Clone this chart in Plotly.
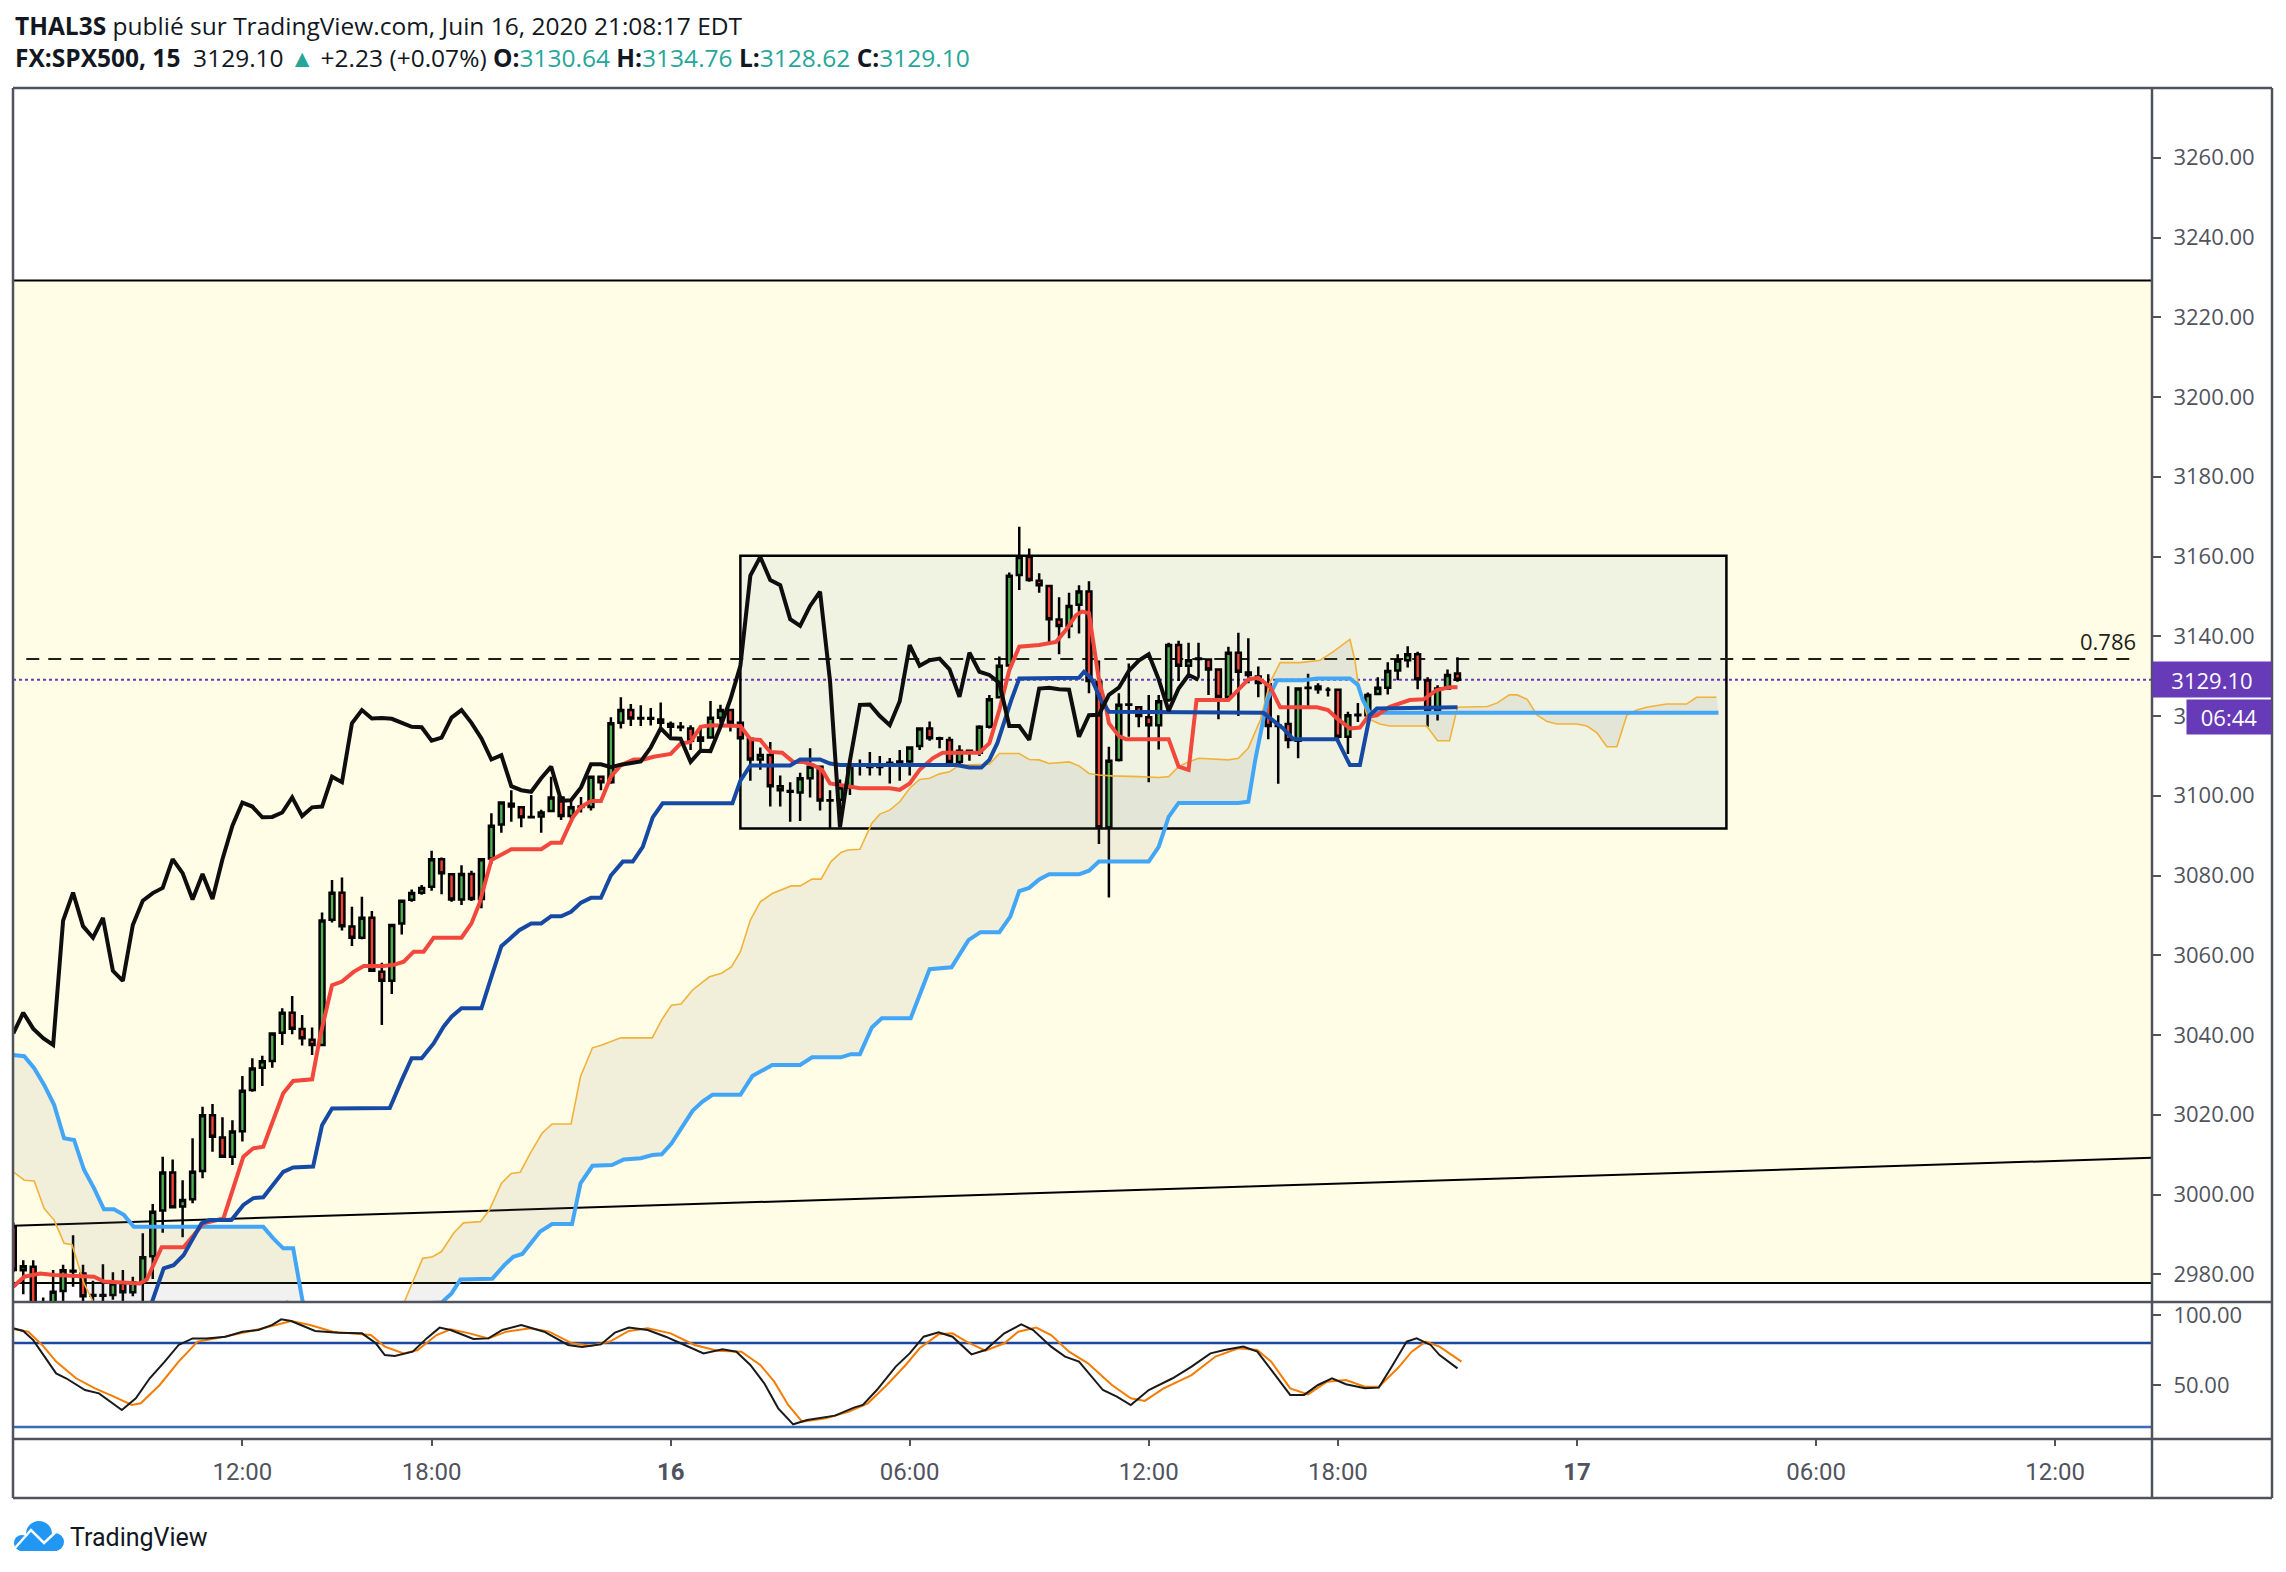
import plotly.graph_objects as go

# ---------------- data ----------------
bars = list(range(-66, 80))  # 15-minute bar index, 0 = Jun 16 00:00

opens = [
2991.9, 2981.0, 2981.9, 2971.0, 2969.0, 2975.8, 2980.7, 2980.2, 2974.8, 2974.6,
2974.8, 2977.7, 2975.5, 2978.0, 2984.5, 2996.0, 3005.5, 2997.0, 2998.8, 3005.9,
3019.9, 3014.3, 3009.5, 3015.9, 3026.2, 3031.8, 3033.5, 3040.6, 3045.6, 3041.5,
3038.8, 3037.5, 3068.9, 3075.7, 3067.2, 3064.4, 3069.4, 3055.9, 3053.6, 3068.0,
3073.9, 3075.7, 3077.2, 3084.1, 3080.3, 3074.0, 3080.4, 3074.1, 3084.3, 3092.8,
3098.0, 3097.1, 3094.6, 3094.8, 3096.2, 3099.6, 3094.9, 3097.2, 3097.2, 3104.8,
3103.4, 3118.3, 3121.5, 3119.4, 3119.5, 3119.1, 3118.0, 3117.3, 3116.9, 3113.8,
3114.6, 3119.6, 3121.5, 3118.3, 3114.3, 3109.1, 3110.2, 3102.4, 3101.2, 3100.8,
3104.4, 3107.3, 3098.8, 3099.0, 3102.1, 3107.8, 3107.8, 3107.2, 3108.2, 3108.5,
3108.6, 3112.5, 3116.9, 3114.4, 3114.0, 3108.5, 3111.3, 3110.8, 3117.3, 3124.7,
3132.7, 3155.4, 3159.9, 3153.9, 3152.6, 3144.2, 3142.6, 3147.9, 3151.2, 3128.6,
3092.1, 3109.0, 3122.8, 3122.2, 3119.7, 3117.7, 3124.0, 3137.8, 3132.6, 3134.3,
3134.2, 3131.7, 3124.8, 3135.9, 3130.9, 3129.9, 3128.0, 3117.6, 3118.0, 3113.8,
3127.0, 3127.4, 3126.6, 3126.6, 3114.8, 3120.2, 3120.2, 3125.5, 3127.1, 3131.4,
3134.0, 3135.5, 3128.9, 3121.3, 3126.9, 3130.64]

highs = [
2993.0, 2983.5, 2983.5, 2974.2, 2981.1, 2982.4, 2989.8, 2982.4, 2978.4, 2982.5,
2980.5, 2981.1, 2979.4, 2990.3, 2997.6, 3009.5, 3008.8, 3003.6, 3014.1, 3022.0,
3022.7, 3019.4, 3018.6, 3029.7, 3034.2, 3034.8, 3040.6, 3046.7, 3049.8, 3045.0,
3041.9, 3070.7, 3078.9, 3079.5, 3072.2, 3074.7, 3071.1, 3058.1, 3067.8, 3074.0,
3076.5, 3077.6, 3086.2, 3084.5, 3080.6, 3082.6, 3081.2, 3084.4, 3095.6, 3098.6,
3101.4, 3097.4, 3100.2, 3096.5, 3104.8, 3099.8, 3099.1, 3099.7, 3105.0, 3105.0,
3119.7, 3124.7, 3123.0, 3122.7, 3122.0, 3123.4, 3118.6, 3118.5, 3117.7, 3117.5,
3123.8, 3122.8, 3121.8, 3118.6, 3114.6, 3112.1, 3113.5, 3105.1, 3103.4, 3105.8,
3111.9, 3107.6, 3101.4, 3104.1, 3108.2, 3109.1, 3111.0, 3110.0, 3109.5, 3111.5,
3112.3, 3117.0, 3118.6, 3114.8, 3114.8, 3112.7, 3111.5, 3117.7, 3125.3, 3134.9,
3156.0, 3167.5, 3162.0, 3155.8, 3152.8, 3149.8, 3150.9, 3152.8, 3153.8, 3133.9,
3112.3, 3125.7, 3133.2, 3122.4, 3125.3, 3125.3, 3138.4, 3138.9, 3138.4, 3138.4,
3134.4, 3131.9, 3137.4, 3140.9, 3139.5, 3132.4, 3130.5, 3120.2, 3127.5, 3126.9,
3130.6, 3128.2, 3127.2, 3126.6, 3121.1, 3123.3, 3125.9, 3129.7, 3133.5, 3135.5,
3137.5, 3136.1, 3129.7, 3127.7, 3131.7, 3134.76]

lows = [
2980.5, 2975.0, 2968.0, 2966.0, 2967.0, 2972.0, 2976.9, 2971.5, 2972.0, 2972.0,
2973.6, 2972.5, 2974.5, 2972.0, 2978.8, 2990.4, 2996.5, 2989.3, 2997.8, 3004.1,
3010.7, 3009.2, 3007.4, 3013.3, 3025.8, 3027.2, 3031.8, 3037.5, 3040.2, 3037.4,
3035.0, 3037.2, 3068.2, 3066.2, 3062.3, 3064.0, 3055.8, 3042.5, 3050.3, 3065.2,
3073.4, 3075.2, 3076.2, 3075.3, 3073.4, 3072.6, 3073.6, 3071.8, 3083.0, 3090.7,
3093.5, 3092.1, 3094.3, 3090.7, 3096.0, 3093.9, 3094.1, 3095.8, 3096.3, 3101.4,
3103.0, 3116.9, 3117.5, 3117.5, 3117.6, 3117.3, 3114.8, 3116.2, 3111.5, 3111.6,
3114.4, 3118.3, 3116.1, 3114.0, 3103.8, 3106.5, 3097.3, 3097.3, 3093.5, 3093.7,
3099.6, 3096.3, 3091.8, 3096.0, 3100.2, 3105.1, 3105.1, 3105.1, 3103.1, 3103.8,
3105.1, 3111.5, 3113.8, 3111.9, 3107.7, 3107.7, 3108.8, 3110.0, 3116.9, 3124.5,
3132.4, 3151.6, 3153.7, 3150.9, 3138.4, 3135.5, 3139.5, 3140.7, 3125.7, 3087.9,
3074.5, 3108.6, 3114.8, 3117.2, 3103.4, 3111.6, 3123.6, 3128.8, 3129.9, 3129.6,
3125.3, 3119.2, 3123.8, 3120.0, 3128.2, 3124.7, 3114.2, 3103.0, 3111.9, 3109.4,
3122.3, 3125.6, 3124.9, 3113.6, 3110.5, 3118.5, 3119.8, 3125.3, 3125.4, 3129.0,
3132.2, 3126.7, 3117.3, 3118.9, 3126.9, 3128.62]

closes = [
2981.1, 2982.0, 2971.0, 2969.0, 2975.6, 2981.0, 2980.9, 2974.5, 2974.6, 2974.8,
2977.7, 2975.5, 2978.0, 2984.3, 2995.7, 3005.5, 2996.8, 2998.6, 3005.7, 3019.9,
3014.5, 3009.5, 3015.8, 3026.0, 3031.6, 3033.4, 3040.4, 3045.6, 3041.6, 3039.2,
3037.5, 3068.7, 3075.7, 3067.3, 3064.4, 3069.4, 3056.1, 3053.6, 3067.6, 3073.7,
3075.6, 3076.9, 3084.1, 3080.6, 3074.0, 3080.4, 3074.1, 3084.1, 3092.5, 3098.3,
3097.3, 3094.6, 3094.7, 3095.8, 3099.6, 3094.9, 3097.1, 3097.3, 3104.8, 3103.4,
3118.2, 3121.5, 3119.4, 3119.5, 3119.3, 3118.3, 3117.3, 3117.2, 3113.8, 3114.6,
3119.6, 3121.5, 3118.3, 3114.4, 3109.1, 3110.2, 3102.4, 3101.4, 3101.0, 3104.4,
3107.3, 3098.8, 3098.9, 3102.1, 3107.9, 3107.9, 3107.2, 3107.8, 3108.3, 3108.6,
3112.1, 3116.9, 3114.4, 3114.3, 3108.5, 3111.3, 3111.2, 3117.3, 3124.2, 3132.6,
3155.2, 3159.9, 3154.1, 3152.8, 3144.3, 3142.6, 3147.6, 3151.2, 3128.8, 3092.1,
3108.8, 3122.8, 3122.9, 3120.0, 3117.7, 3123.7, 3137.8, 3132.6, 3134.0, 3134.4,
3131.7, 3124.8, 3135.9, 3131.1, 3130.3, 3128.3, 3117.5, 3117.5, 3114.0, 3126.9,
3127.1, 3126.7, 3126.6, 3114.8, 3120.2, 3120.3, 3125.3, 3127.1, 3131.3, 3133.9,
3135.5, 3129.2, 3121.3, 3126.9, 3130.3, 3129.10]

LAG_SHIFT = 26  # lagging span plotted 26 bars back

conv_x = [-66, -64.9, -63.3, -61.9, -57.9, -56.9, -53.3, -52.6, -51.1, -48.9, -46.9, -44.9, -42.9, -41.9,
          -40.9, -38.9, -37.9, -36, -35.2, -34, -33, -31.8, -30.8, -28.8, -27.8, -26.8, -25.8, -24.8,
          -23.8, -21, -20, -19.2, -18, -16, -13, -12, -11, -9.8, -9, -8, -7, -6, -5, -3.7, -2.7, -1.7,
          0, 1, 2, 3, 4, 7, 8, 9, 10, 11.2, 12.3, 13.3, 14.3, 15.2, 16, 17, 18, 19, 22, 23, 24, 25,
          26.3, 27.3, 31, 32, 33, 34, 35, 37, 38.7, 39.7, 40.7, 41.3, 42, 43, 43.7, 44, 45, 45.7, 50,
          51, 52, 52.8, 56, 57, 58, 59, 60.2, 61.2, 64.9, 66, 66.9, 68.2, 69.2, 70, 70.9, 72.2, 74.2,
          75.6, 76.9, 78.2, 79]
conv_y = [2976.9, 2979.4, 2980.2, 2979.8, 2979.4, 2978.2, 2977.7, 2978.7, 2986.8, 2986.8, 2992.8, 2994.0,
          3009.5, 3011.6, 3012.0, 3025.4, 3028.5, 3028.9, 3039.6, 3052.5, 3053.4, 3055.9, 3057.3, 3057.3,
          3057.6, 3058.4, 3060.9, 3060.9, 3064.4, 3064.4, 3068.0, 3073.0, 3083.9, 3086.6, 3086.6, 3088.2,
          3088.2, 3094.7, 3097.2, 3098.7, 3098.7, 3104.8, 3107.7, 3109.1, 3109.1, 3109.8, 3110.5, 3113.1,
          3113.5, 3117.3, 3117.7, 3117.5, 3114.2, 3114.0, 3111.0, 3110.8, 3108.5, 3108.5, 3107.7, 3106.5,
          3103.1, 3102.7, 3102.3, 3101.9, 3101.9, 3101.5, 3103.1, 3106.5, 3109.4, 3110.8, 3110.8, 3113.2,
          3121.5, 3131.5, 3137.4, 3137.8, 3138.6, 3141.6, 3145.3, 3146.2, 3145.8, 3129.0, 3122.3, 3118.2,
          3115.0, 3114.2, 3114.2, 3107.3, 3106.5, 3124.0, 3124.0, 3126.5, 3129.2, 3129.6, 3127.3, 3122.2,
          3122.2, 3121.5, 3119.4, 3116.9, 3117.1, 3119.8, 3120.2, 3122.3, 3124.0, 3124.2, 3126.5, 3127.2,
          3127.2]

base_x = [-52.5, -51.4, -50.9, -49.9, -48.9, -47.1, -46.3, -44.1, -42.9, -41.9, -40.9, -38.9, -37.9, -35.9,
          -35, -34, -28.2, -27, -26, -25, -23.8, -22.8, -22, -21, -19, -18, -17, -16.2, -15.2, -14, -13,
          -12, -11, -10, -9, -8, -7, -6, -4.8, -3.8, -2.8, -1.8, -0.8, 6.2, 7, 8, 12, 13, 15, 16, 17, 28.7,
          30, 31.2, 32, 32.8, 33.3, 34.2, 35, 41, 41.5, 42.2, 43.2, 44, 59.5, 60.5, 61.5, 62.5, 66.9, 68.2,
          69.2, 70.2, 70.9, 79]
base_y = [2970.0, 2977.7, 2981.5, 2982.3, 2984.8, 2992.8, 2993.6, 2993.6, 2997.4, 2999.1, 2999.3, 3005.7,
          3006.8, 3007.0, 3017.4, 3021.6, 3021.7, 3028.7, 3034.2, 3034.2, 3037.9, 3042.1, 3044.6, 3046.7,
          3046.7, 3054.6, 3062.3, 3064.0, 3066.3, 3068.0, 3068.0, 3069.8, 3069.8, 3070.9, 3073.2, 3074.4,
          3074.4, 3080.0, 3083.5, 3083.5, 3087.2, 3094.6, 3098.1, 3098.1, 3103.8, 3107.6, 3107.6, 3109.1,
          3109.1, 3108.1, 3107.7, 3107.7, 3107.1, 3107.1, 3109.0, 3113.2, 3117.3, 3124.0, 3129.4, 3129.6,
          3131.1, 3129.6, 3124.0, 3121.1, 3120.8, 3119.0, 3116.9, 3114.2, 3114.2, 3107.7, 3107.7, 3120.2,
          3121.9, 3122.2]

spanA_x = [-66, -64.9, -63.9, -62.9, -61.9, -60.9, -60.1, -58.9, -57.9, -50, -39.5, -38.5, -37.5, -33, -26.8,
           -25.9, -24.9, -23.9, -23.0, -21.8, -20.8, -19.1, -18.2, -17.0, -16.0, -15.1, -14.1, -12.9, -11.9,
           -10.0, -9.05, -7.85, -6.9, -5.0, -1.85, -0.9, 0.08, 1.04, 2.2, 3.9, 5.1, 6.1, 7.0, 8.0, 9.0, 10.2,
           12.1, 13.0, 14.2, 15.1, 16.1, 17.1, 17.8, 19.0, 20.2, 21, 22, 23, 24, 25, 26, 27, 28, 29, 32, 33,
           35, 36, 37, 38, 40, 41, 42, 43, 44.3, 47, 49, 50, 51, 52, 53, 56, 57, 58, 59.2, 60.2, 61.2, 63.2,
           65.2, 66.5, 68.2, 68.7, 69, 70, 71.2, 72.2, 75.9, 77, 78.2, 79, 82, 83, 84.2, 85, 86, 87, 88, 89,
           91, 92, 93, 94, 95, 96, 97, 98, 100, 102, 103, 105]
spanA_y = [3005.7, 3003.6, 3003.4, 2996.5, 2993.6, 2987.8, 2987.4, 2977.7, 2972.7, 2962.0, 2972.0, 2973.3,
           2972.0, 2962.0, 2972.7, 2978.1, 2984.0, 2984.4, 2985.7, 2990.3, 2992.9, 2993.2, 2996.1, 3002.8,
           3005.3, 3005.6, 3010.3, 3015.4, 3017.7, 3017.7, 3029.6, 3036.8, 3037.5, 3039.3, 3039.3, 3043.8,
           3047.5, 3047.8, 3051.3, 3054.6, 3055.5, 3057.1, 3060.9, 3068.8, 3073.4, 3075.5, 3077.4, 3077.4,
           3079.1, 3079.1, 3083.5, 3085.8, 3086.4, 3086.6, 3093.1, 3095.4, 3096.4, 3098.5, 3101.9, 3104.1,
           3104.4, 3105.5, 3106.0, 3107.7, 3107.9, 3110.6, 3110.6, 3109.1, 3109.0, 3108.1, 3108.5, 3107.5,
           3105.6, 3105.2, 3105.0, 3104.8, 3104.6, 3104.8, 3107.3, 3108.5, 3109.4, 3109.0, 3109.4, 3112.0,
           3119.0, 3128.6, 3133.4, 3133.4, 3134.0, 3136.1, 3139.2, 3134.0, 3128.6, 3119.4, 3118.0, 3117.5,
           3117.5, 3113.8, 3113.8, 3122.2, 3122.4, 3123.3, 3125.3, 3125.3, 3124.2, 3120.2, 3118.6, 3118.0,
           3118.0, 3117.5, 3115.8, 3112.3, 3112.3, 3120.2, 3121.5, 3122.2, 3123.0, 3123.0, 3124.7, 3124.7]

spanB_x = [-66, -64.9, -63.9, -62.9, -61.9, -60.9, -59.9, -58.9, -57.9, -56.9, -55.9, -54.9, -53.9, -40.9,
           -39.9, -38.9, -37.9, -36.9, -35, -27, -24.9, -23.0, -22.0, -21.1, -17.9, -16.7, -15.8, -14.9,
           -13.1, -11.9, -9.9, -9.05, -7.85, -5.9, -4.7, -3.0, -1.85, -0.9, 0.08, 1.04, 2.2, 3.2, 4.2, 7.0,
           8.2, 10.2, 13.0, 14.2, 17.1, 18.1, 19.0, 20.2, 21.2, 24.1, 26.0, 28.2, 29.9, 31.1, 33.0, 34.1, 35,
           36, 37, 38, 41, 42, 43, 48, 49, 50, 51, 57, 58, 58.7, 59.2, 59.9, 60.9, 63.5, 64.9, 68.2, 69, 69.5,
           70.2, 105.2]
spanB_y = [3035.0, 3034.7, 3031.7, 3027.5, 3022.5, 3014.1, 3013.7, 3006.2, 3001.6, 2996.3, 2996.3, 2994.9,
           2991.9, 2991.9, 2989.0, 2986.5, 2986.5, 2972.5, 2962.0, 2962.0, 2972.7, 2972.9, 2975.2, 2978.7,
           2978.9, 2982.3, 2984.4, 2985.1, 2990.7, 2992.6, 2992.6, 3002.8, 3007.2, 3007.4, 3008.8, 3009.1,
           3009.9, 3010.1, 3012.8, 3016.4, 3021.0, 3023.3, 3025.0, 3025.0, 3029.7, 3032.5, 3032.5, 3034.4,
           3034.4, 3035.2, 3035.2, 3041.9, 3044.2, 3044.2, 3056.5, 3057.0, 3063.8, 3065.8, 3065.8, 3069.7,
           3076.1, 3076.9, 3079.0, 3080.3, 3080.3, 3081.2, 3083.5, 3083.5, 3087.2, 3094.7, 3098.2, 3098.2,
           3098.5, 3109.1, 3115.7, 3124.0, 3129.0, 3129.0, 3129.4, 3129.4, 3127.8, 3124.0, 3120.8, 3120.8]

stoch_k_x = [-66, -65, -64, -62.6, -61.7, -60.7, -58.8, -57.4, -55.1, -53.7, -52.3, -50.8, -49.4, -48, -46.6,
             -44.7, -43, -41.4, -40, -39.1, -38.1, -35.7, -33.4, -31, -29.6, -28.7, -27.7, -25.9, -24.5,
             -23.2, -22.1, -19.8, -18.3, -16.9, -15, -12.7, -10.3, -8.9, -7, -5.6, -4.2, -2.3, -0.5, 1.4,
             3.3, 5.2, 6.6, 8, 9.4, 10.8, 12.3, 13.7, 16.5, 18.4, 19.3, 20.7, 22.6, 24, 25.4, 26.9, 28.3,
             30.2, 31.6, 33.5, 35.2, 36.4, 38.2, 39.6, 41, 43.4, 44.8, 46.2, 48, 50.4, 52.3, 54.2, 55.6,
             57.5, 58.9, 60.7, 62.2, 63.6, 65, 66.4, 67.8, 69.7, 71.1, 72.5, 73.9, 74.9, 76.3, 77.2, 79]
stoch_k_y = [90.5, 88.6, 82.1, 67.9, 58.3, 54.8, 46.4, 44.0, 32.1, 40.5, 54.8, 66.7, 78.6, 83.3, 83.3, 84.5,
             88.1, 89.3, 92.9, 96.9, 95.7, 88.6, 87.4, 86.9, 79.8, 71.4, 70.7, 73.8, 83.3, 91.0, 89.3, 82.9,
             83.3, 89.3, 92.9, 88.1, 78.6, 77.2, 79.0, 87.4, 91.0, 89.3, 84.5, 78.6, 72.6, 75.5, 73.8, 64.3,
             51.2, 33.3, 21.9, 25.0, 28.1, 33.8, 35.7, 46.4, 63.1, 72.6, 84.5, 87.6, 84.5, 71.9, 75.0, 86.9,
             93.3, 89.3, 77.4, 70.3, 66.7, 46.4, 41.7, 35.7, 46.4, 54.8, 63.1, 72.6, 75.0, 77.4, 73.8, 57.1,
             42.9, 42.9, 50.0, 54.8, 50.5, 47.6, 48.1, 64.3, 81.0, 83.3, 78.6, 71.4, 61.9]

stoch_d_x = [-66, -64.5, -63.1, -61.7, -59.7, -57.8, -55.9, -54.1, -53.2, -51.3, -49.4, -47.5, -45.6, -43.3,
             -40.9, -38.1, -36.2, -33.9, -31.5, -30.1, -28.7, -26.8, -25.4, -23.5, -22.1, -20.2, -18.3,
             -16.5, -14.1, -12.2, -9.9, -8, -6.1, -4.2, -2.3, 0, 2.4, 4.7, 7.1, 9, 10.4, 11.8, 13.2, 15.6,
             17.9, 19.8, 21.7, 23.6, 25, 26.9, 28.3, 29.7, 31.6, 33.5, 34.9, 36.7, 38.2, 40, 41.9, 44.3,
             46.2, 47.6, 49.5, 52.3, 54.7, 57, 58.9, 60.3, 62.2, 64, 65.9, 67.8, 69.7, 71.1, 73, 74.4, 75.8,
             77.2, 79.4]
stoch_d_y = [90.0, 88.1, 78.6, 66.7, 54.8, 47.6, 41.7, 35.7, 36.9, 50.0, 66.7, 81.0, 83.3, 86.9, 90.5, 95.7,
             92.9, 88.1, 86.9, 85.7, 77.4, 72.6, 75.0, 85.7, 89.8, 86.9, 83.3, 88.1, 90.5, 88.1, 79.8, 78.1,
             81.0, 88.6, 90.5, 86.9, 78.6, 74.5, 73.8, 64.3, 52.4, 35.7, 23.8, 26.2, 31.0, 36.9, 50.0, 64.3,
             76.2, 86.2, 86.9, 81.0, 74.5, 79.8, 88.1, 91.0, 85.7, 73.8, 65.5, 50.0, 40.5, 38.6, 47.6, 57.1,
             70.3, 76.2, 75.0, 66.7, 47.6, 43.3, 52.4, 53.6, 48.8, 48.8, 61.9, 73.8, 81.0, 77.4, 66.7]

stoch_levels = [80, 20]

box_x = [7, 106]            # consolidation rectangle (bars)
box_y = [3091.8, 3160.2]    # price
zone_y = [2977.8, 3229.2]   # pale yellow zone
fib_level = 3134.3          # 0.786 level
fib_label = "0.786"
fib_x = [-64.7, 147.3]
last_price = 3129.10
trend_y = [2992.2, 3009.2]  # trend line at left / right edge

price_ticks = list(range(2980, 3261, 20))
stoch_ticks = [50, 100]
time_tickvals = [-43, -24, 0, 24, 48, 67, 91, 115, 139]
time_ticktext = ["12:00", "18:00", "<b>16</b>", "06:00", "12:00", "18:00", "<b>17</b>", "06:00", "12:00"]

# ---------------- geometry (page pixels) ----------------
PAGE_W, PAGE_H = 2286, 1572
OFF = 8                       # browser body margin
FW, FH = PAGE_W - 2 * OFF, PAGE_H - 2 * OFF
PL, PR, PT, PB = 13, 2152, 88, 1439
def px(ox):
    return (ox - PL) / (PR - PL)
def py(oy):
    return (PB - oy) / (PB - PT)
split = py(1302)

X_RANGE = [-66.03, 148.73]
Y_RANGE = [2973.05, 3277.5]
S_RANGE = [11.4, 109.3]

GREEN = "#4CAF50"
RED = "#F44336"
TEAL = "#26A69A"
AXC = "#50535E"
TXT = "#131722"
PURPLE = "#673AB7"

fig = go.Figure()

# cloud
fig.add_trace(go.Scatter(x=spanA_x, y=spanA_y, mode="lines", line=dict(color="#F2B23A", width=1.6),
                         hoverinfo="skip", showlegend=False))
fig.add_trace(go.Scatter(x=spanB_x, y=spanB_y, mode="lines", line=dict(color="#42A5F5", width=4),
                         fill="tonexty", fillcolor="rgba(120,120,120,0.10)",
                         hoverinfo="skip", showlegend=False))

# candles
fig.add_trace(go.Candlestick(
    x=bars, open=opens, high=highs, low=lows, close=closes,
    increasing=dict(fillcolor=GREEN, line=dict(color="#000000", width=2.5)),
    decreasing=dict(fillcolor=RED, line=dict(color="#000000", width=2.5)),
    whiskerwidth=0, showlegend=False, hoverinfo="skip"))

# ichimoku lines
fig.add_trace(go.Scatter(x=conv_x, y=conv_y, mode="lines", line=dict(color="#F2473C", width=4),
                         hoverinfo="skip", showlegend=False))
fig.add_trace(go.Scatter(x=base_x, y=base_y, mode="lines", line=dict(color="#1649A3", width=4),
                         hoverinfo="skip", showlegend=False))
lag_x = [b - LAG_SHIFT for b in bars[LAG_SHIFT:]]
lag_y = closes[LAG_SHIFT:]
fig.add_trace(go.Scatter(x=lag_x, y=lag_y, mode="lines", line=dict(color="#0E0E0E", width=4),
                         hoverinfo="skip", showlegend=False))

# stochastic
fig.add_trace(go.Scatter(x=stoch_d_x, y=stoch_d_y, mode="lines", line=dict(color="#F57C00", width=2),
                         xaxis="x2", yaxis="y2", hoverinfo="skip", showlegend=False))
fig.add_trace(go.Scatter(x=stoch_k_x, y=stoch_k_y, mode="lines", line=dict(color="#1A1A1A", width=2),
                         xaxis="x2", yaxis="y2", hoverinfo="skip", showlegend=False))

shapes = []
# pale yellow zone
shapes.append(dict(type="rect", xref="paper", yref="y", x0=0, x1=1, y0=zone_y[0], y1=zone_y[1],
                   fillcolor="#FFFDE6", line=dict(width=0), layer="below"))
for zy in zone_y:
    shapes.append(dict(type="line", xref="paper", yref="y", x0=0, x1=1, y0=zy, y1=zy,
                       line=dict(color="#000000", width=2), layer="below"))
# consolidation box
shapes.append(dict(type="rect", xref="x", yref="y", x0=box_x[0], x1=box_x[1], y0=box_y[0], y1=box_y[1],
                   fillcolor="rgba(40,120,170,0.07)", line=dict(color="#000000", width=2.5), layer="below"))
# trend line
shapes.append(dict(type="line", xref="paper", yref="y", x0=0, x1=1, y0=trend_y[0], y1=trend_y[1],
                   line=dict(color="#000000", width=2), layer="below"))
# fib level
shapes.append(dict(type="line", xref="x", yref="y", x0=fib_x[0], x1=fib_x[1], y0=fib_level, y1=fib_level,
                   line=dict(color="#1E1E18", width=2, dash="13px,9px"), layer="below"))
# last price line
shapes.append(dict(type="line", xref="paper", yref="y", x0=0, x1=1, y0=last_price, y1=last_price,
                   line=dict(color=PURPLE, width=2, dash="3px,3px"), layer="below"))
# stochastic levels
shapes.append(dict(type="line", xref="paper", yref="y2", x0=0, x1=1, y0=stoch_levels[0], y1=stoch_levels[0],
                   line=dict(color="#1848A0", width=2.5), layer="below"))
shapes.append(dict(type="line", xref="paper", yref="y2", x0=0, x1=1, y0=stoch_levels[1], y1=stoch_levels[1],
                   line=dict(color="#3B6CB8", width=2.5), layer="below"))

# frame
xr = px(2272)
yb = py(1498)
frame = [
    (0, 1, xr, 1), (0, 1, 0, yb), (xr, 1, xr, yb), (0, yb, xr, yb), (1, 1, 1, yb),
    (0, split, xr, split), (0, 0, xr, 0),
]
for x0, y0, x1, y1 in frame:
    shapes.append(dict(type="line", xref="paper", yref="paper", x0=x0, y0=y0, x1=x1, y1=y1,
                       line=dict(color=AXC, width=2.5), layer="above"))

# TradingView logo (cloud)
logo_blue = "#2196F3"
for cx, cy, r in [(22, 1543, 8), (39, 1534, 13), (55, 1542, 9)]:
    shapes.append(dict(type="circle", xref="paper", yref="paper", x0=px(cx - r), x1=px(cx + r),
                       y0=py(cy + r), y1=py(cy - r), fillcolor=logo_blue, line=dict(width=0), layer="above"))
shapes.append(dict(type="rect", xref="paper", yref="paper", x0=px(20), x1=px(57), y0=py(1551), y1=py(1540),
                   fillcolor=logo_blue, line=dict(width=0), layer="above"))
logo_pts = [(15, 1548), (31, 1530), (44, 1543), (61, 1527)]
path = "M " + " L ".join(f"{px(a)},{py(b)}" for a, b in logo_pts)
shapes.append(dict(type="path", xref="paper", yref="paper", path=path,
                   line=dict(color="#FFFFFF", width=2.5), layer="above"))

o, h, l, c = opens[-1], highs[-1], lows[-1], closes[-1]
line1 = "<b>THAL3S</b> publié sur TradingView.com, Juin 16, 2020 21:08:17 EDT"
line2 = (f"<b>FX:SPX500, 15</b>  {c:.2f} <span style='color:{TEAL}'>▲</span> +2.23 (+0.07%) "
         f"<b>O:</b><span style='color:{TEAL}'>{o:.2f}</span> "
         f"<b>H:</b><span style='color:{TEAL}'>{h:.2f}</span> "
         f"<b>L:</b><span style='color:{TEAL}'>{l:.2f}</span> "
         f"<b>C:</b><span style='color:{TEAL}'>{c:.2f}</span>")

annotations = [
    dict(text=line1, xref="paper", yref="paper", x=px(13), y=py(25), xanchor="left", yanchor="middle",
         showarrow=False, font=dict(family="Open Sans", size=24.5, color=TXT)),
    dict(text=line2, xref="paper", yref="paper", x=px(13), y=py(58), xanchor="left", yanchor="middle",
         showarrow=False, font=dict(family="Open Sans", size=24.5, color=TXT)),
    dict(text=fib_label, xref="x", yref="y", x=fib_x[1], y=fib_level, xanchor="right", yanchor="bottom",
         yshift=1, showarrow=False, font=dict(family="Open Sans", size=22, color="#1E1E18")),
    dict(text=f"{last_price:.2f}", xref="paper", yref="y", x=1, y=last_price, xanchor="left",
         yanchor="middle", showarrow=False, bgcolor=PURPLE, width=118, height=35, borderpad=0,
         font=dict(family="Open Sans", size=22, color="#FFFFFF")),
    dict(text="06:44", xref="paper", yref="paper", x=px(2186), y=py(717), xanchor="left",
         yanchor="middle", showarrow=False, bgcolor=PURPLE, width=84, height=34, borderpad=0,
         font=dict(family="Open Sans", size=22, color="#FFFFFF")),
    dict(text="TradingView", xref="paper", yref="paper", x=px(68), y=py(1537), xanchor="left",
         yanchor="middle", showarrow=False, font=dict(family="Roboto", size=25, color=TXT)),
]

fig.update_layout(
    width=FW, height=FH,
    margin=dict(l=PL - OFF, r=OFF + FW - PR, t=PT - OFF, b=OFF + FH - PB),
    paper_bgcolor="#FFFFFF", plot_bgcolor="#FFFFFF",
    showlegend=False,
    shapes=shapes, annotations=annotations,
    xaxis=dict(domain=[0, 1], range=X_RANGE, anchor="y", showticklabels=False, showgrid=False,
               zeroline=False, showline=False, ticks="", rangeslider=dict(visible=False), fixedrange=True),
    xaxis2=dict(domain=[0, 1], range=X_RANGE, anchor="y2", showgrid=False, zeroline=False, showline=False,
                tickmode="array", tickvals=time_tickvals, ticktext=time_ticktext, ticks="outside",
                ticklen=6, tickwidth=2, tickcolor=AXC, ticklabelstandoff=5,
                tickfont=dict(family="Roboto", size=24, color=AXC)),
    yaxis=dict(domain=[split, 1], range=Y_RANGE, side="right", anchor="x", showgrid=False, zeroline=False,
               showline=False, tickmode="array", tickvals=price_ticks,
               ticktext=[f"{v:.2f}" for v in price_ticks], ticks="outside", ticklen=8, tickwidth=2,
               tickcolor=AXC, ticklabelstandoff=8, tickfont=dict(family="Open Sans", size=22, color=AXC)),
    yaxis2=dict(domain=[0, split], range=S_RANGE, side="right", anchor="x2", showgrid=False, zeroline=False,
                showline=False, tickmode="array", tickvals=stoch_ticks,
                ticktext=[f"{v:.2f}" for v in stoch_ticks], ticks="outside", ticklen=8, tickwidth=2,
                tickcolor=AXC, ticklabelstandoff=8, tickfont=dict(family="Open Sans", size=22, color=AXC)),
)

fig.write_html("out.html")
